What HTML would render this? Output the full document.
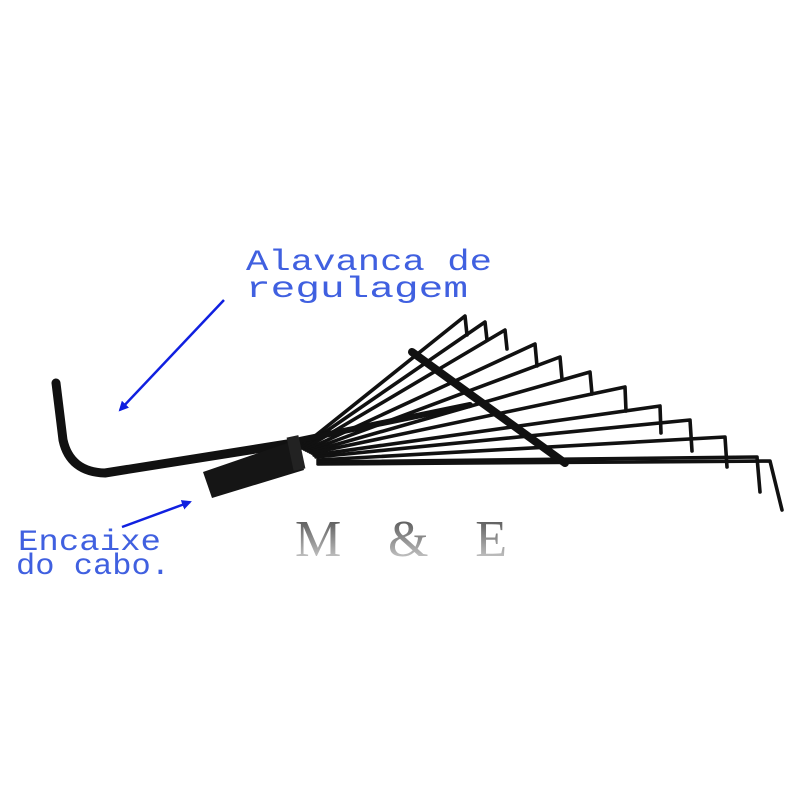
<!DOCTYPE html>
<html><head><meta charset="utf-8"><style>html,body{margin:0;padding:0;background:#fff}svg{display:block}</style></head>
<body>
<svg width="800" height="800" viewBox="0 0 800 800" xmlns="http://www.w3.org/2000/svg">
<defs>
<linearGradient id="g" x1="0" y1="0" x2="0" y2="1"><stop offset="0" stop-color="#444"/><stop offset="1" stop-color="#ddd"/></linearGradient>
<marker id="ah" markerWidth="10" markerHeight="10" refX="8" refY="5" orient="auto" markerUnits="userSpaceOnUse"><path d="M0,0 L10,5 L0,10 z" fill="#1020e0"/></marker>
</defs>
<g font-family="Liberation Mono, monospace" fill="#4060e0" font-size="30">
<text x="246" y="270" textLength="246" lengthAdjust="spacingAndGlyphs">Alavanca de</text>
<text x="246" y="297" textLength="222" lengthAdjust="spacingAndGlyphs">regulagem</text>
<text x="18" y="550" textLength="143" lengthAdjust="spacingAndGlyphs">Encaixe</text>
<text x="16" y="574" textLength="154" lengthAdjust="spacingAndGlyphs">do cabo.</text>
</g>
<line x1="224" y1="300" x2="120" y2="410" stroke="#1020e0" stroke-width="2.5" marker-end="url(#ah)"/>
<line x1="122" y1="527" x2="190" y2="502" stroke="#1020e0" stroke-width="2.5" marker-end="url(#ah)"/>
<text x="295" y="556" font-family="Liberation Serif, serif" font-size="52" fill="url(#g)" textLength="212" lengthAdjust="spacing">M &amp; E</text>
<g stroke="#111" fill="none" stroke-linecap="round" stroke-linejoin="round">
<path d="M56,383 L63,440 Q70,472 105,473 L300,442" stroke-width="9"/>
<g stroke-width="3.6">
<path d="M300,448 L465,316 L467,335"/>
<path d="M302,448 L485,322 L487,340"/>
<path d="M304,449 L505,330 L507,349"/>
<path d="M306,450 L535,344 L537,366"/>
<path d="M308,451 L560,357 L562,379"/>
<path d="M310,452 L590,372 L592,394"/>
<path d="M312,453 L625,387 L626,411"/>
<path d="M314,455 L660,406 L661,433"/>
<path d="M316,457 L690,420 L692,451"/>
<path d="M318,460 L725,437 L727,467"/>
<path d="M318,462 L757,457 L760,492"/>
<path d="M318,464 L770,461 L782,510"/>
</g>
<line x1="412" y1="352" x2="565" y2="463" stroke-width="8"/>
<line x1="300" y1="440" x2="470" y2="405" stroke-width="6"/>
</g>
<polygon points="203,472 296,440 304,470 212,498" fill="#151515"/>
<rect x="290" y="436" width="12" height="34" fill="#222" transform="rotate(-12 296 453)"/>
</svg>
</body></html>
